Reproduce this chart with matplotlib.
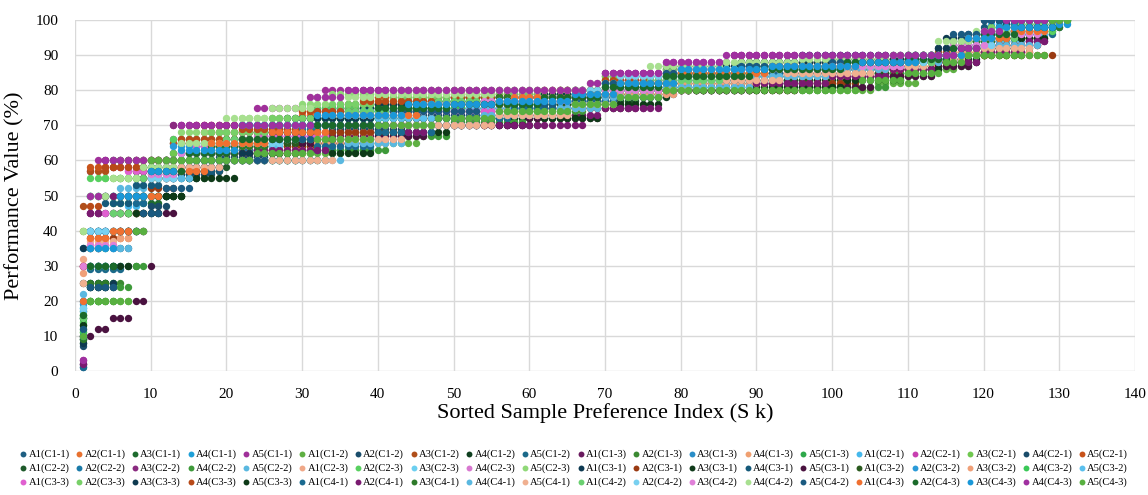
import matplotlib
matplotlib.use("Agg")
import matplotlib.pyplot as plt

plt.rcParams["font.family"] = ["Liberation Serif", "DejaVu Serif"]

# Each series: (last index, [(start index, value), ...]) -- a sorted step series
AGENTS = ["A1", "A2", "A3", "A4", "A5"]
CONDITIONS = ["C1-1", "C1-2", "C1-3", "C2-1", "C2-2", "C2-3",
              "C3-1", "C3-2", "C3-3", "C4-1", "C4-2", "C4-3"]

COLORS = [
    "#1f5f82", "#e8712f", "#1e6b2e", "#1fa0d8", "#a0309a",   # C1-1
    "#5fb043", "#1a4d6b", "#b04f1a", "#0f3f1f", "#1b6a8a",   # C1-2
    "#6a1b5f", "#3b8a32", "#2a8ec8", "#f0a070", "#2ea84a",   # C1-3
    "#45b8ec", "#c83fb0", "#70c850", "#1a4c6a", "#c8531a",   # C2-1
    "#1e5a2a", "#1a7aa8", "#8a2a80", "#3e9a3a", "#5ab8e0",   # C2-2
    "#f0a888", "#58d060", "#6ccff0", "#d878d0", "#90d878",   # C2-3
    "#0e3a52", "#9a3a12", "#103a1a", "#155a7a", "#4a1240",   # C3-1
    "#2a5a1e", "#2a9ad8", "#f0a078", "#3ac858", "#5ac0ee",   # C3-2
    "#e060d0", "#78d068", "#0e3a50", "#b84a18", "#0e3a18",   # C3-3
    "#1a6a90", "#7a1a70", "#2e7a2a", "#5ab8e0", "#f0b090",   # C4-1
    "#6ad070", "#78d0f0", "#e080d8", "#a8e090", "#1a5a80",   # C4-2
    "#f07030", "#1a6a2a", "#1a98d8", "#a030a0", "#58b040",   # C4-3
]

C1_1 = [
    (128, [(1, 1), (2, 40), (6, 45), (9, 57), (13, 62), (20, 66), (28, 70), (36, 74), (48, 76), (60, 77), (70, 79), (78, 83), (88, 85), (100, 86), (110, 88), (116, 93), (121, 96), (126, 98)]),
    (126, [(1, 10), (2, 30), (4, 38), (8, 50), (12, 58), (16, 62), (22, 68), (30, 73), (40, 76), (50, 77), (64, 78), (72, 80), (80, 84), (92, 86), (104, 87), (114, 90), (120, 93), (124, 95)]),
    (129, [(1, 8), (2, 24), (6, 30), (9, 48), (12, 55), (18, 65), (26, 68), (33, 72), (45, 75), (56, 76), (68, 78), (73, 82), (80, 85), (90, 87), (103, 88), (112, 90), (118, 94), (123, 97)]),
    (130, [(1, 20), (2, 50), (9, 57), (13, 65), (20, 70), (36, 72), (44, 76), (55, 78), (67, 79), (71, 82), (79, 86), (89, 87), (101, 88), (111, 89), (117, 92), (121, 96), (127, 99)]),
    (130, [(1, 3), (2, 57), (3, 60), (13, 70), (24, 75), (31, 78), (33, 80), (70, 85), (78, 88), (87, 90), (119, 95), (121, 100)]),
]
C1_2 = [
    (131, [(1, 12), (2, 20), (8, 50), (10, 60), (29, 62), (36, 65), (46, 70), (55, 72), (66, 75), (74, 78), (78, 80), (106, 82), (112, 86), (117, 90), (124, 95), (128, 100)]),
    (127, [(1, 9), (2, 25), (5, 35), (8, 45), (11, 55), (17, 62), (25, 67), (34, 70), (46, 73), (58, 76), (69, 78), (75, 82), (82, 84), (93, 86), (105, 87), (113, 90), (119, 95), (124, 97)]),
    (128, [(1, 47), (2, 57), (5, 58), (13, 65), (17, 68), (26, 70), (36, 75), (46, 77), (60, 78), (66, 80), (71, 84), (80, 86), (92, 88), (106, 89), (114, 91), (121, 95)]),
    (126, [(1, 15), (2, 30), (4, 45), (9, 50), (15, 57), (20, 63), (28, 66), (34, 68), (44, 70), (50, 72), (62, 75), (70, 78), (79, 81), (92, 83), (104, 85), (114, 89), (120, 92)]),
    (129, [(1, 2), (2, 29), (7, 40), (10, 56), (15, 60), (30, 63), (40, 70), (52, 73), (63, 76), (71, 79), (80, 83), (92, 85), (103, 87), (112, 89), (118, 93), (123, 96)]),
]
C1_3 = [
    (128, [(1, 30), (2, 45), (4, 50), (10, 57), (14, 62), (22, 66), (30, 67), (40, 70), (58, 73), (68, 75), (76, 80), (90, 82), (100, 84), (108, 86), (115, 88), (120, 92), (125, 94)]),
    (130, [(1, 17), (2, 20), (4, 25), (7, 40), (9, 50), (12, 60), (24, 64), (33, 70), (44, 74), (56, 76), (67, 78), (74, 81), (85, 84), (98, 86), (108, 88), (115, 90), (121, 96), (127, 100)]),
    (127, [(1, 35), (2, 50), (6, 55), (10, 60), (16, 64), (24, 70), (34, 75), (48, 77), (62, 79), (70, 82), (78, 85), (90, 87), (102, 88), (111, 90), (118, 95), (123, 98)]),
    (125, [(1, 25), (2, 35), (4, 38), (7, 55), (11, 57), (20, 62), (31, 65), (40, 70), (52, 74), (62, 77), (72, 80), (82, 84), (95, 86), (108, 88), (116, 91), (121, 94)]),
    (131, [(1, 16), (2, 40), (5, 48), (8, 57), (12, 60), (30, 65), (38, 70), (50, 75), (60, 77), (68, 79), (74, 80), (90, 82), (104, 85), (113, 88), (118, 90), (126, 100)]),
]
C2_1 = [
    (129, [(1, 18), (2, 30), (7, 47), (9, 50), (13, 60), (18, 62), (26, 70), (34, 73), (46, 75), (58, 77), (70, 80), (79, 84), (90, 86), (100, 87), (110, 89), (116, 92), (121, 99)]),
    (128, [(1, 30), (2, 40), (5, 58), (8, 60), (13, 66), (19, 68), (26, 72), (35, 76), (48, 78), (62, 80), (70, 83), (79, 86), (88, 88), (102, 89), (112, 90), (119, 94), (124, 98)]),
    (130, [(1, 11), (2, 40), (4, 55), (9, 58), (13, 62), (20, 70), (28, 72), (36, 76), (46, 78), (60, 79), (70, 82), (78, 85), (88, 87), (100, 88), (110, 90), (116, 93), (121, 97), (126, 100)]),
    (128, [(1, 7), (2, 24), (6, 40), (10, 47), (13, 56), (19, 61), (26, 65), (34, 69), (44, 72), (56, 75), (66, 77), (72, 80), (82, 83), (94, 86), (106, 88), (114, 92), (119, 96), (123, 99)]),
    (127, [(1, 40), (2, 58), (6, 60), (13, 65), (16, 70), (30, 74), (38, 78), (50, 79), (64, 80), (70, 84), (78, 86), (90, 87), (104, 88), (112, 90), (120, 93)]),
]
C2_2 = [
    (128, [(1, 9), (2, 30), (6, 45), (10, 50), (15, 58), (21, 62), (29, 66), (37, 70), (47, 72), (58, 75), (69, 77), (75, 80), (86, 83), (98, 85), (108, 87), (115, 90), (121, 95), (125, 98)]),
    (129, [(1, 20), (2, 35), (5, 50), (9, 55), (12, 57), (17, 63), (25, 69), (33, 72), (43, 75), (55, 77), (66, 79), (72, 82), (80, 85), (92, 87), (104, 88), (113, 90), (119, 96), (124, 99)]),
    (130, [(1, 2), (2, 45), (4, 60), (13, 70), (33, 75), (38, 80), (70, 85), (78, 87), (87, 90), (116, 92), (120, 95), (124, 100)]),
    (131, [(1, 13), (2, 20), (6, 24), (8, 30), (10, 55), (13, 60), (33, 63), (42, 67), (50, 71), (60, 74), (68, 76), (72, 78), (78, 80), (100, 81), (108, 84), (114, 87), (119, 90), (126, 97), (129, 100)]),
    (126, [(1, 15), (2, 50), (6, 52), (10, 55), (14, 60), (20, 65), (30, 70), (44, 74), (56, 76), (68, 78), (74, 81), (84, 84), (96, 86), (108, 88), (115, 90), (120, 94)]),
]
C2_3 = [
    (127, [(1, 32), (2, 38), (5, 45), (9, 55), (13, 58), (20, 62), (28, 65), (36, 68), (45, 72), (55, 75), (66, 77), (72, 80), (82, 83), (94, 85), (106, 87), (114, 90), (121, 93)]),
    (129, [(1, 14), (2, 55), (5, 60), (13, 66), (22, 70), (30, 75), (40, 77), (52, 78), (64, 80), (70, 83), (80, 85), (90, 87), (100, 88), (110, 90), (117, 93), (122, 97)]),
    (128, [(1, 18), (2, 30), (5, 45), (8, 50), (12, 60), (16, 65), (22, 70), (36, 72), (48, 75), (60, 77), (70, 80), (80, 84), (92, 86), (104, 88), (112, 89), (117, 92), (121, 96)]),
    (127, [(1, 30), (2, 35), (4, 40), (7, 57), (12, 60), (18, 64), (26, 67), (34, 73), (46, 76), (58, 78), (68, 79), (72, 82), (80, 86), (92, 87), (104, 88), (113, 90), (118, 93)]),
    (130, [(1, 40), (2, 50), (5, 55), (9, 60), (14, 68), (22, 72), (30, 76), (34, 79), (42, 80), (70, 82), (78, 86), (88, 88), (100, 89), (110, 90), (117, 94), (121, 97), (125, 99)]),
]
C3_1 = [
    (129, [(1, 35), (2, 40), (9, 50), (13, 57), (17, 64), (24, 68), (30, 72), (38, 75), (48, 77), (60, 78), (70, 81), (80, 84), (88, 87), (98, 88), (108, 89), (114, 92), (118, 96), (122, 100)]),
    (129, [(1, 30), (2, 38), (6, 45), (10, 52), (14, 60), (22, 64), (32, 68), (44, 72), (54, 75), (64, 77), (70, 78), (78, 80), (96, 82), (104, 84), (110, 86), (114, 88), (119, 90)]),
    (127, [(1, 10), (2, 24), (5, 30), (8, 45), (10, 50), (15, 60), (24, 62), (30, 65), (38, 70), (56, 73), (66, 76), (72, 80), (82, 82), (94, 84), (106, 86), (113, 89), (118, 92), (122, 95)]),
    (130, [(1, 25), (2, 40), (4, 48), (8, 53), (12, 57), (20, 66), (28, 72), (38, 74), (50, 76), (60, 78), (70, 81), (78, 85), (88, 87), (96, 90), (116, 94), (120, 98)]),
    (126, [(1, 10), (3, 12), (5, 15), (8, 20), (10, 30), (11, 45), (14, 58), (20, 62), (28, 65), (40, 67), (47, 70), (60, 72), (70, 78), (78, 80), (96, 81), (106, 84), (114, 87), (119, 91)]),
]
C3_2 = [
    (128, [(1, 15), (2, 30), (5, 45), (8, 57), (12, 60), (20, 65), (30, 70), (40, 72), (50, 74), (62, 76), (70, 79), (78, 82), (90, 84), (100, 86), (110, 88), (116, 90), (121, 93), (125, 96)]),
    (130, [(1, 19), (2, 40), (6, 50), (9, 58), (13, 64), (22, 70), (32, 74), (44, 77), (56, 78), (66, 80), (72, 84), (82, 86), (94, 87), (106, 88), (113, 90), (118, 95), (122, 100)]),
    (126, [(1, 28), (2, 36), (6, 38), (8, 45), (10, 55), (14, 60), (24, 63), (32, 65), (42, 70), (54, 73), (64, 75), (70, 79), (80, 82), (92, 84), (104, 86), (112, 88), (117, 91)]),
    (129, [(1, 11), (2, 20), (4, 25), (6, 50), (10, 58), (16, 60), (24, 66), (32, 72), (42, 75), (54, 77), (64, 79), (70, 82), (80, 85), (92, 87), (104, 88), (112, 90), (120, 96), (126, 100)]),
    (128, [(1, 17), (2, 30), (6, 50), (10, 55), (15, 60), (22, 64), (28, 70), (40, 72), (52, 75), (62, 77), (70, 80), (80, 84), (92, 86), (104, 88), (112, 89), (117, 92), (121, 96)]),
]
C3_3 = [
    (127, [(1, 30), (2, 35), (4, 45), (7, 57), (11, 58), (16, 64), (24, 67), (34, 70), (46, 74), (58, 77), (66, 79), (72, 83), (80, 86), (92, 88), (104, 89), (112, 90), (118, 93), (123, 97)]),
    (130, [(1, 16), (2, 50), (6, 55), (10, 60), (18, 68), (26, 72), (34, 76), (42, 78), (54, 79), (64, 80), (70, 84), (78, 86), (88, 88), (100, 89), (110, 90), (117, 94), (121, 98), (126, 100)]),
    (129, [(1, 8), (2, 25), (6, 40), (10, 50), (13, 57), (18, 62), (26, 68), (32, 72), (40, 76), (50, 78), (62, 79), (70, 82), (78, 87), (88, 88), (100, 89), (110, 90), (115, 95), (120, 100)]),
    (127, [(1, 30), (2, 47), (4, 58), (10, 60), (14, 66), (22, 69), (30, 74), (38, 77), (50, 78), (62, 80), (70, 83), (78, 84), (90, 85), (102, 86), (110, 88), (116, 90), (121, 93)]),
    (128, [(1, 13), (2, 30), (6, 40), (8, 45), (12, 50), (15, 55), (22, 60), (34, 62), (40, 68), (50, 70), (62, 72), (70, 76), (78, 80), (92, 81), (102, 83), (110, 86), (115, 88), (120, 92), (125, 95)]),
]
C4_1 = [
    (129, [(1, 1), (2, 35), (4, 40), (8, 48), (10, 55), (14, 58), (20, 60), (32, 64), (40, 68), (48, 72), (58, 75), (66, 77), (72, 80), (82, 83), (92, 85), (102, 87), (110, 89), (116, 92), (120, 97), (124, 100)]),
    (128, [(1, 2), (2, 45), (4, 50), (9, 55), (14, 60), (24, 63), (34, 66), (44, 68), (47, 70), (68, 73), (70, 75), (78, 80), (90, 82), (100, 84), (108, 86), (114, 88), (120, 91), (126, 94)]),
    (130, [(1, 9), (2, 25), (5, 40), (8, 50), (12, 60), (18, 64), (26, 70), (34, 73), (44, 76), (56, 78), (66, 79), (72, 82), (80, 85), (92, 87), (104, 88), (112, 90), (118, 94), (122, 98)]),
    (127, [(1, 22), (2, 30), (5, 35), (8, 50), (11, 55), (16, 60), (36, 65), (44, 70), (54, 73), (64, 75), (70, 78), (78, 81), (90, 84), (100, 86), (108, 88), (115, 90), (120, 93)]),
    (126, [(1, 25), (2, 37), (6, 40), (10, 55), (13, 58), (20, 60), (35, 66), (44, 70), (56, 73), (66, 76), (72, 80), (82, 83), (94, 85), (106, 87), (113, 89), (118, 92)]),
]
C4_2 = [
    (130, [(1, 15), (2, 35), (5, 45), (8, 55), (12, 60), (20, 66), (28, 70), (36, 74), (48, 77), (58, 78), (68, 80), (76, 83), (86, 86), (98, 87), (108, 88), (114, 90), (120, 95), (125, 100)]),
    (128, [(1, 18), (2, 40), (6, 50), (10, 55), (14, 62), (20, 65), (28, 70), (36, 73), (46, 76), (58, 78), (66, 80), (72, 84), (82, 86), (94, 87), (106, 88), (113, 90), (118, 93), (122, 97)]),
    (127, [(1, 30), (2, 36), (6, 50), (10, 56), (14, 62), (22, 66), (30, 70), (42, 74), (54, 77), (64, 78), (70, 80), (78, 85), (88, 86), (100, 87), (110, 90), (116, 93), (121, 96)]),
    (130, [(1, 40), (2, 50), (5, 55), (9, 58), (14, 65), (20, 72), (26, 75), (32, 78), (40, 79), (56, 80), (68, 82), (76, 87), (86, 88), (96, 89), (108, 90), (114, 94), (119, 97), (124, 100)]),
    (129, [(1, 12), (2, 24), (6, 40), (9, 45), (12, 52), (16, 60), (26, 66), (32, 70), (42, 74), (54, 76), (64, 78), (70, 82), (78, 85), (88, 87), (100, 88), (110, 90), (116, 96), (120, 100)]),
]
C4_3 = [
    (128, [(1, 20), (2, 38), (5, 40), (8, 50), (12, 57), (18, 65), (26, 68), (34, 73), (46, 76), (58, 78), (66, 79), (72, 82), (80, 85), (92, 87), (104, 88), (112, 90), (118, 95), (124, 97)]),
    (129, [(1, 16), (2, 30), (6, 50), (10, 57), (15, 62), (22, 66), (30, 70), (40, 75), (50, 76), (62, 78), (70, 81), (78, 84), (90, 86), (102, 88), (110, 89), (116, 92), (120, 96), (125, 98)]),
    (131, [(1, 10), (2, 35), (6, 50), (10, 57), (14, 63), (22, 70), (32, 73), (44, 76), (56, 77), (66, 79), (72, 82), (80, 86), (92, 87), (104, 88), (112, 90), (118, 95), (122, 98), (130, 99)]),
    (130, [(1, 3), (2, 50), (4, 60), (14, 70), (32, 78), (36, 80), (68, 82), (70, 85), (78, 88), (86, 90), (117, 92), (120, 97), (123, 100)]),
    (131, [(1, 10), (2, 20), (8, 40), (10, 60), (24, 62), (32, 66), (40, 70), (48, 72), (56, 74), (66, 76), (72, 78), (78, 80), (104, 83), (110, 85), (115, 88), (118, 90), (129, 100)]),
]

GROUPS = [C1_1, C1_2, C1_3, C2_1, C2_2, C2_3, C3_1, C3_2, C3_3, C4_1, C4_2, C4_3]


def expand(n, steps):
    xs, ys = [], []
    for i, (start, val) in enumerate(steps):
        end = steps[i + 1][0] if i + 1 < len(steps) else n + 1
        for x in range(start, end):
            xs.append(x)
            ys.append(val)
    return xs, ys


fig = plt.figure(figsize=(11.48, 4.95), dpi=100)
ax = fig.add_axes([0.0653, 0.2505, 0.9234, 0.7091])

handles, labels = [], []
k = 0
for cond, group in zip(CONDITIONS, GROUPS):
    for agent, (n, steps) in zip(AGENTS, group):
        xs, ys = expand(n, steps)
        h = ax.scatter(xs, ys, s=28, color=COLORS[k], linewidths=0, zorder=3)
        handles.append(h)
        labels.append(f"{agent}({cond})")
        k += 1

ax.set_xlim(0, 140)
ax.set_ylim(0, 100)
ax.set_xticks(range(0, 141, 10))
ax.set_yticks(range(0, 101, 10))
ax.grid(True, color="#d9d9d9", linewidth=1.0, zorder=0)
ax.set_axisbelow(True)
for sp in ax.spines.values():
    sp.set_visible(False)
ax.tick_params(length=0, labelsize=11, pad=12)
ax.set_xlabel("Sorted Sample Preference Index (S k)", fontsize=16, labelpad=2)
ax.set_ylabel("Performance Value (%)", fontsize=16, labelpad=8)

# legend reads row by row: 3 rows of 20
order = [r * 20 + c for c in range(20) for r in range(3)]
fig.legend([handles[i] for i in order], [labels[i] for i in order],
           loc="lower center", bbox_to_anchor=(0.5, 0.0), ncol=20, frameon=False,
           fontsize=7.6, handlelength=0.6, handletextpad=0.2, columnspacing=0.6,
           labelspacing=0.4, markerscale=0.8, borderaxespad=0.4)

fig.savefig("out.png", dpi=100)
